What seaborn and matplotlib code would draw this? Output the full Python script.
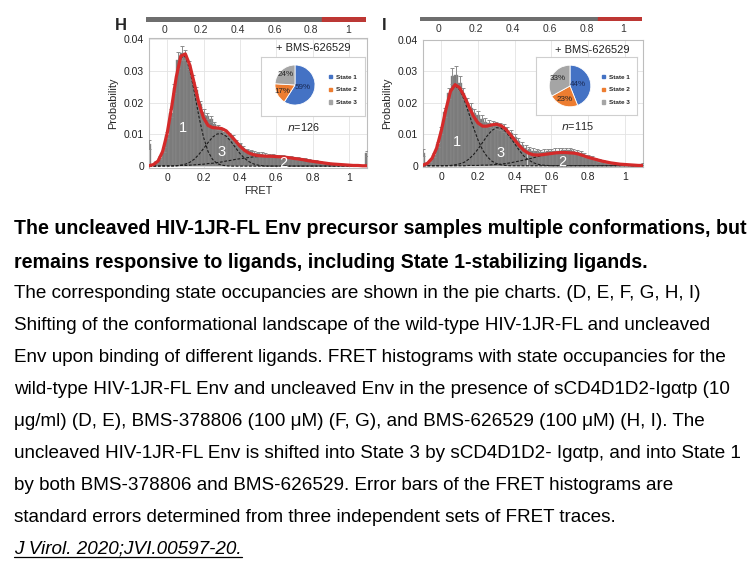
import numpy as np
import pandas as pd
import matplotlib
matplotlib.use('Agg')
import matplotlib.pyplot as plt
from matplotlib import font_manager
from matplotlib.patches import Patch
from matplotlib.lines import Line2D
import seaborn as sns

# x positions: histogram bin centres and the grid the fitted curves were read on
fret_bins = np.round(np.arange(-0.1, 1.1001, 0.02), 2)
fret_grid = np.round(np.arange(-0.1, 1.1001, 0.025), 3)
fret_ticks = [0, 0.2, 0.4, 0.6, 0.8, 1]
fret_tick_labels = ['0', '0.2', '0.4', '0.6', '0.8', '1']
prob_ticks = [0, 0.01, 0.02, 0.03, 0.04]
prob_tick_labels = ['0', '0.01', '0.02', '0.03', '0.04']

# panel H
h_bars = [0.0068, 0.0005, 0.0012, 0.0026, 0.0052, 0.0098, 0.0168, 0.0245, 0.0335, 0.0355,
          0.0350, 0.0318, 0.0275, 0.0238, 0.0195, 0.0170, 0.0158, 0.0148, 0.0132, 0.0122,
          0.0112, 0.0108, 0.0098, 0.0090, 0.0076, 0.0068, 0.0058, 0.0050, 0.0046, 0.0042,
          0.0040, 0.0038, 0.0036, 0.0034, 0.0033, 0.0032, 0.0031, 0.0030, 0.0029, 0.0027,
          0.0026, 0.0024, 0.0022, 0.0021, 0.0019, 0.0017, 0.0015, 0.0013, 0.0011, 0.0010,
          0.0009, 0.0007, 0.0006, 0.0005, 0.0004, 0.0003, 0.0002, 0.0002, 0.0001, 0.0001,
          0.0040]
h_err = [0.0013, 0.0002, 0.0003, 0.0005, 0.0007, 0.0010, 0.0012, 0.0014, 0.0025, 0.0022,
         0.0016, 0.0014, 0.0012, 0.0011, 0.0010, 0.0010, 0.0009, 0.0009, 0.0008, 0.0008,
         0.0008, 0.0007, 0.0007, 0.0007, 0.0006, 0.0006, 0.0006, 0.0005, 0.0005, 0.0005,
         0.0005, 0.0005, 0.0005, 0.0004, 0.0004, 0.0004, 0.0004, 0.0004, 0.0004, 0.0004,
         0.0004, 0.0004, 0.0003, 0.0003, 0.0003, 0.0003, 0.0003, 0.0003, 0.0003, 0.0002,
         0.0002, 0.0002, 0.0002, 0.0002, 0.0002, 0.0001, 0.0001, 0.0001, 0.0001, 0.0001,
         0.0008]
h_state1 = [0.0001, 0.0005, 0.0016, 0.0045, 0.0102, 0.0186, 0.0278, 0.0341, 0.0345, 0.0302,
            0.0232, 0.0155, 0.0091, 0.0046, 0.0021, 0.0008, 0.0003, 0.0001, 0, 0,
            0, 0, 0, 0, 0, 0, 0, 0, 0, 0,
            0, 0, 0, 0, 0, 0, 0, 0, 0, 0,
            0, 0, 0, 0, 0, 0, 0, 0, 0]
h_state3 = [0, 0, 0, 0, 0, 0, 0.0001, 0.0003, 0.0006, 0.0012,
            0.0022, 0.0037, 0.0055, 0.0074, 0.0091, 0.0101, 0.0102, 0.0094, 0.0078, 0.0059,
            0.0040, 0.0025, 0.0014, 0.0007, 0.0003, 0.0001, 0, 0, 0, 0,
            0, 0, 0, 0, 0, 0, 0, 0, 0, 0,
            0, 0, 0, 0, 0, 0, 0, 0, 0]
h_state2 = [0, 0, 0, 0.0001, 0.0001, 0.0001, 0.0001, 0.0002, 0.0002, 0.0003,
            0.0004, 0.0005, 0.0006, 0.0008, 0.0009, 0.0011, 0.0013, 0.0016, 0.0018, 0.0021,
            0.0023, 0.0025, 0.0027, 0.0029, 0.0030, 0.0031, 0.0031, 0.0031, 0.0030, 0.0029,
            0.0028, 0.0026, 0.0024, 0.0022, 0.0020, 0.0017, 0.0015, 0.0013, 0.0011, 0.0009,
            0.0007, 0.0006, 0.0005, 0.0004, 0.0003, 0.0002, 0.0002, 0.0001, 0.0001]
h_occupancy = [59, 17, 24]
h_n = 126

# panel I
i_bars = [0.0042, 0.0007, 0.0015, 0.0035, 0.0068, 0.0112, 0.0170, 0.0230, 0.0285, 0.0288,
          0.0262, 0.0230, 0.0200, 0.0185, 0.0168, 0.0160, 0.0150, 0.0140, 0.0135, 0.0130,
          0.0128, 0.0125, 0.0120, 0.0112, 0.0105, 0.0092, 0.0078, 0.0066, 0.0058, 0.0052,
          0.0048, 0.0046, 0.0044, 0.0045, 0.0046, 0.0047, 0.0048, 0.0048, 0.0049, 0.0050,
          0.0049, 0.0047, 0.0044, 0.0040, 0.0034, 0.0029, 0.0025, 0.0021, 0.0017, 0.0014,
          0.0011, 0.0009, 0.0007, 0.0005, 0.0004, 0.0003, 0.0002, 0.0001, 0.0001, 0.0001,
          0.0005]
i_err = [0.0010, 0.0002, 0.0004, 0.0006, 0.0008, 0.0012, 0.0015, 0.0018, 0.0025, 0.0028,
         0.0022, 0.0018, 0.0016, 0.0015, 0.0014, 0.0013, 0.0012, 0.0012, 0.0011, 0.0011,
         0.0011, 0.0012, 0.0014, 0.0012, 0.0010, 0.0010, 0.0009, 0.0008, 0.0008, 0.0007,
         0.0007, 0.0007, 0.0007, 0.0007, 0.0007, 0.0007, 0.0008, 0.0008, 0.0008, 0.0008,
         0.0008, 0.0007, 0.0007, 0.0006, 0.0006, 0.0005, 0.0005, 0.0004, 0.0004, 0.0003,
         0.0003, 0.0003, 0.0002, 0.0002, 0.0002, 0.0001, 0.0001, 0.0001, 0.0001, 0.0001,
         0.0003]
i_state1 = [0.0002, 0.0008, 0.0024, 0.0057, 0.0112, 0.0179, 0.0236, 0.0255, 0.0242, 0.0210,
            0.0167, 0.0122, 0.0082, 0.0050, 0.0029, 0.0015, 0.0007, 0.0003, 0.0001, 0,
            0, 0, 0, 0, 0, 0, 0, 0, 0, 0,
            0, 0, 0, 0, 0, 0, 0, 0, 0, 0,
            0, 0, 0, 0, 0, 0, 0, 0, 0]
i_state3 = [0, 0, 0, 0, 0, 0, 0.0001, 0.0003, 0.0006, 0.0011,
            0.0021, 0.0035, 0.0053, 0.0074, 0.0095, 0.0112, 0.0121, 0.0120, 0.0109, 0.0091,
            0.0070, 0.0049, 0.0031, 0.0019, 0.0010, 0.0005, 0.0002, 0.0001, 0, 0,
            0, 0, 0, 0, 0, 0, 0, 0, 0, 0,
            0, 0, 0, 0, 0, 0, 0, 0, 0]
i_state2 = [0, 0, 0, 0, 0, 0, 0, 0, 0, 0,
            0.0001, 0.0001, 0.0001, 0.0002, 0.0002, 0.0003, 0.0004, 0.0005, 0.0007, 0.0009,
            0.0012, 0.0015, 0.0018, 0.0021, 0.0025, 0.0029, 0.0033, 0.0036, 0.0039, 0.0041,
            0.0042, 0.0042, 0.0041, 0.0040, 0.0037, 0.0032, 0.0027, 0.0023, 0.0019, 0.0015,
            0.0012, 0.0009, 0.0007, 0.0005, 0.0004, 0.0003, 0.0002, 0.0001, 0.0001]
i_occupancy = [44, 23, 33]
i_n = 115

state_names = ['State 1', 'State 2', 'State 3']
state_colors = ['#4472c4', '#ed7d31', '#a5a5a5']
ligand = '+ BMS-626529'

caption_lines = [
    ('The uncleaved HIV-1JR-FL Env precursor samples multiple conformations, but', 'bold'),
    ('remains responsive to ligands, including State 1-stabilizing ligands.', 'bold'),
    ('The corresponding state occupancies are shown in the pie charts. (D, E, F, G, H, I)', 'normal'),
    ('Shifting of the conformational landscape of the wild-type HIV-1JR-FL and uncleaved', 'normal'),
    ('Env upon binding of different ligands. FRET histograms with state occupancies for the', 'normal'),
    ('wild-type HIV-1JR-FL Env and uncleaved Env in the presence of sCD4D1D2-Ig\u03b1tp (10', 'normal'),
    ('\u03bcg/ml) (D, E), BMS-378806 (100 \u03bcM) (F, G), and BMS-626529 (100 \u03bcM) (H, I). The', 'normal'),
    ('uncleaved HIV-1JR-FL Env is shifted into State 3 by sCD4D1D2- Ig\u03b1tp, and into State 1', 'normal'),
    ('by both BMS-378806 and BMS-626529. Error bars of the FRET histograms are', 'normal'),
    ('standard errors determined from three independent sets of FRET traces.', 'normal'),
]
citation = 'J Virol. 2020;JVI.00597-20.'

sns.set_theme(style='white')
plt.rcParams['font.family'] = ['Liberation Sans', 'DejaVu Sans']

installed = {f.name for f in font_manager.fontManager.ttflist}
narrow = 'Liberation Sans Narrow' in installed
body_family = ['Liberation Sans Narrow' if narrow else 'Liberation Sans', 'DejaVu Sans']
body_size = 15 if narrow else 13.6
bold_size = 15 if narrow else 14.1

W, H = 756, 567
fig = plt.figure(figsize=(W / 100, H / 100), dpi=100)


def px_rect(left, top, right, bottom):
    return [left / W, 1 - bottom / H, (right - left) / W, (bottom - top) / H]


def draw_strip(rect, letter, letter_xy):
    ax = fig.add_axes(rect)
    ax.axhspan(0, 1, color='#6e6e6e')
    ax.axvspan(0.86, 1.1, color='#c8302c', alpha=0.85)
    ax.set_xlim(-0.1, 1.1)
    ax.set_ylim(0, 1)
    ax.set_yticks([])
    ax.set_xticks(fret_ticks)
    ax.set_xticklabels(fret_tick_labels, fontsize=7.5, color='#333333')
    ax.tick_params(axis='x', length=0, pad=2)
    for s in ax.spines.values():
        s.set_visible(False)
    fig.text(letter_xy[0] / W, 1 - letter_xy[1] / H, letter, fontsize=12,
             fontweight='bold', ha='center', va='center')


def draw_panel(rect, ylim, bars, errs, s1, s2, s3, label_pos):
    ax = fig.add_axes(rect)
    hist = pd.DataFrame({'fret': fret_bins, 'prob': bars})
    sns.histplot(data=hist, x='fret', weights='prob', binwidth=0.02,
                 binrange=(-0.11, 1.11), color='#7b7b7b', edgecolor='#929292',
                 linewidth=0.3, alpha=1, ax=ax, zorder=2)
    ax.errorbar(fret_bins, bars, yerr=errs, fmt='none', ecolor='#8c8c8c',
                elinewidth=0.7, capsize=1.6, capthick=0.7, zorder=3)
    for comp in (s1, s2, s3):
        sns.lineplot(x=fret_grid, y=comp, ax=ax, color='#1c1c1c', linewidth=0.8,
                     linestyle=(0, (2.5, 1.5)), zorder=4)
    fit = np.array(s1) + np.array(s2) + np.array(s3)
    sns.lineplot(x=fret_grid, y=fit, ax=ax, color='#d42a2a', linewidth=2.3, zorder=5)
    for name, (x, y) in label_pos.items():
        ax.text(x, y, name, color='white', fontsize=10.5, ha='center', va='center', zorder=6)
    ax.set_xlim(-0.1, 1.1)
    ax.set_ylim(*ylim)
    ax.set_xticks(fret_ticks)
    ax.set_xticklabels(fret_tick_labels)
    ax.set_yticks(prob_ticks)
    ax.set_yticklabels(prob_tick_labels)
    ax.grid(True, color='#e3e3e3', linewidth=0.6, zorder=0)
    ax.set_axisbelow(True)
    ax.tick_params(length=0, labelsize=7.5, labelcolor='#222222', pad=3.5)
    ax.set_xlabel('FRET', fontsize=7.8, labelpad=2)
    ax.set_ylabel('Probability', fontsize=7.8, labelpad=4)
    for s in ax.spines.values():
        s.set_color('#bdbdbd')
        s.set_linewidth(0.8)
    return ax


def draw_pie(box_rect, pie_rect, occupancy, legend_xy, title_xy, n, n_xy):
    box = fig.add_axes(box_rect)
    box.set_xticks([])
    box.set_yticks([])
    box.set_facecolor('white')
    for s in box.spines.values():
        s.set_color('#cfcfcf')
        s.set_linewidth(0.8)
    pax = fig.add_axes(pie_rect)
    wedges, _, autotexts = pax.pie(
        occupancy, colors=state_colors, startangle=90, counterclock=False,
        autopct=lambda p: f'{p:.0f}%', pctdistance=0.7,
        wedgeprops=dict(edgecolor='white', linewidth=0.6),
        textprops=dict(fontsize=5.8, color='#262626'))
    x, y = autotexts[0].get_position()
    autotexts[0].set_position((x * 0.55, y * 0.55))
    autotexts[0].set_color('#1a2a55')
    pax.set_aspect('equal')
    handles = [Patch(color=c) for c in state_colors]
    fig.legend(handles, state_names, loc='center left',
               bbox_to_anchor=(legend_xy[0] / W, 1 - legend_xy[1] / H),
               frameon=False, prop=dict(size=4.6, weight='bold'),
               handlelength=0.45, handleheight=0.45, handletextpad=0.7,
               labelspacing=1.25, borderpad=0, borderaxespad=0)
    fig.text(title_xy[0] / W, 1 - title_xy[1] / H, ligand, fontsize=8,
             ha='center', va='center', color='#222222')
    fig.text(n_xy[0] / W, 1 - n_xy[1] / H, f'$n$={n}', fontsize=7.8,
             ha='center', va='center', color='#222222')


draw_strip(px_rect(146, 17, 366, 22), 'H', (121, 26))
draw_strip(px_rect(420, 17, 642, 21), 'I', (384, 26))

draw_panel(px_rect(149, 38, 367, 168), (-0.0006, 0.0403), h_bars, h_err,
           h_state1, h_state2, h_state3,
           {'1': (0.088, 0.012), '3': (0.297, 0.0043), '2': (0.64, 0.0011)})
draw_panel(px_rect(423, 40, 643, 167), (-0.0004, 0.040), i_bars, i_err,
           i_state1, i_state2, i_state3,
           {'1': (0.086, 0.0076), '3': (0.324, 0.0039), '2': (0.66, 0.0011)})

draw_pie(px_rect(261, 57, 365, 116), px_rect(270, 60, 320, 110), h_occupancy,
         (329, 90), (313, 48), h_n, (303, 127))
draw_pie(px_rect(536, 57, 637, 115), px_rect(544, 60, 596, 112), i_occupancy,
         (602, 90), (592, 50), i_n, (577, 126))

line_y = [228, 262, 294, 326, 357, 389, 421, 453, 485, 517]
for (txt, weight), y in zip(caption_lines, line_y):
    fig.text(14 / W, 1 - y / H, txt, fontsize=bold_size if weight == 'bold' else body_size,
             fontweight=weight, family=body_family, ha='left', va='center', color='black')
cit = fig.text(14 / W, 1 - 549 / H, citation, fontsize=body_size, style='italic',
               family=body_family, ha='left', va='center', color='black')
fig.canvas.draw()
bb = cit.get_window_extent()
fig.add_artist(Line2D([bb.x0 / W, bb.x1 / W], [(bb.y0 + 1) / H, (bb.y0 + 1) / H],
                      color='black', linewidth=0.9))

fig.savefig('out.png', dpi=100)
